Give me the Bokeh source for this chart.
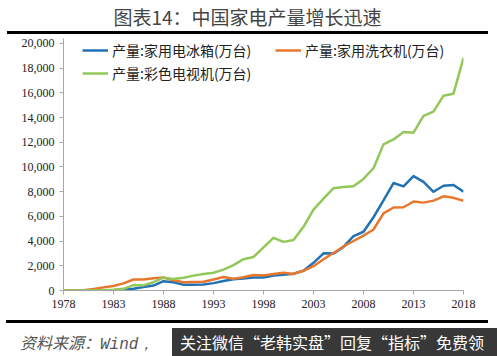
from bokeh.plotting import figure
from bokeh.layouts import column
from bokeh.models import Range1d, FixedTicker, NumeralTickFormatter, Legend, LegendItem, Div
from bokeh.embed import file_html
from bokeh.resources import INLINE

years = list(range(1978, 2019))
fridge = [2.8, 3.2, 4.9, 5.6, 10.0, 18.9, 54.7, 144.8, 290.6, 401.3, 757.6, 670.8, 463.1,
          469.9, 485.8, 596.7, 768.1, 918.5, 979.7, 1044.4, 1060.0, 1210.0, 1279.0, 1351.3,
          1598.9, 2242.6, 3007.6, 2987.1, 3530.9, 4397.1, 4756.9, 5930.5, 7295.7, 8699.2,
          8427.0, 9261.0, 8796.0, 7992.8, 8481.6, 8548.0, 7993.2]
washer = [0.04, 1.8, 24.5, 128.1, 253.3, 365.9, 578.1, 887.2, 899.0, 990.2, 1046.8, 825.4,
          662.7, 687.2, 707.9, 895.9, 1094.2, 948.4, 1074.7, 1254.5, 1207.3, 1342.2, 1443.0,
          1341.6, 1595.8, 1964.5, 2533.4, 3035.5, 3560.5, 4005.1, 4447.0, 4935.8, 6247.7,
          6715.9, 6742.2, 7202.0, 7114.0, 7274.6, 7620.9, 7500.0, 7262.0]
colortv = [0.38, 0.96, 3.21, 15.2, 28.8, 53.1, 134.0, 435.3, 414.6, 672.7, 1037.7, 940.0,
           1033.0, 1205.1, 1333.1, 1435.8, 1689.2, 2057.7, 2537.6, 2711.3, 3497.0, 4262.0,
           3936.0, 4093.7, 5155.0, 6541.4, 7431.8, 8283.2, 8375.4, 8433.0, 9033.1, 9898.8,
           11830.0, 12231.0, 12823.5, 12776.1, 14128.9, 14475.7, 15769.6, 15932.6, 18834.9]
x_ticks = [1978, 1983, 1988, 1993, 1998, 2003, 2008, 2013, 2018]
y_ticks = list(range(0, 20001, 2000))
names = ["产量:家用电冰箱(万台)", "产量:家用洗衣机(万台)", "产量:彩色电视机(万台)"]
title_text = "图表14：中国家电产量增长迅速"
source_cn = "资料来源："
source_en = "Wind，"
mark_text = "关注微信“老韩实盘”回复“指标”免费领"

W = 497
FONT = "'Noto Sans CJK SC', sans-serif"

# title block, its bottom border is the heavy black rule
title_div = Div(width=481, height=34, margin=(0, 9, 0, 7),
                styles={"border-bottom": "3px solid #000000", "box-sizing": "border-box"},
                text=(f'<div style="position:relative;width:481px;height:31px;">'
                      f'<div style="position:absolute;left:0;top:6px;width:481px;'
                      f'text-align:center;font-family:{FONT};font-size:19px;line-height:22px;'
                      f'color:#444444;white-space:nowrap;">{title_text}</div></div>'))

p = figure(width=W, height=286, output_backend="svg", toolbar_location=None,
           x_range=Range1d(1978, 2018), y_range=Range1d(0, 20400),
           min_border_left=63, min_border_right=34, min_border_top=4, min_border_bottom=30,
           margin=0)
p.outline_line_color = None
p.xgrid.visible = False
p.ygrid.visible = False
p.border_fill_color = None
p.background_fill_color = None

for ax in (p.xaxis, p.yaxis):
    ax.axis_line_color = "#A6A6A6"
    ax.major_tick_line_color = "#A6A6A6"
    ax.minor_tick_line_color = None
    ax.major_tick_in = 0
    ax.major_tick_out = 4
    ax.major_label_text_font = "Liberation Serif"
    ax.major_label_text_font_size = "12px"
    ax.major_label_text_color = "#222222"
p.xaxis.ticker = FixedTicker(ticks=x_ticks)
p.yaxis.ticker = FixedTicker(ticks=y_ticks)
p.yaxis.formatter = NumeralTickFormatter(format="0,0")
p.xaxis.major_label_standoff = 5
p.yaxis.major_label_standoff = 5

c_blue, c_orange, c_green = "#2171B5", "#E8772E", "#92C85A"
r1 = p.line(years, fridge, line_color=c_blue, line_width=2.5, line_join="round")
r2 = p.line(years, washer, line_color=c_orange, line_width=2.5, line_join="round")
r3 = p.line(years, colortv, line_color=c_green, line_width=2.5, line_join="round")


def mk_legend(items, loc):
    lg = Legend(items=items, location=loc, padding=0, margin=0, spacing=3,
                glyph_width=26, glyph_height=20, label_height=20, label_standoff=4,
                label_text_font="Noto Sans CJK SC", label_text_font_size="14px",
                label_text_color="#222222", border_line_color=None,
                background_fill_alpha=0)
    p.add_layout(lg, "center")


mk_legend([LegendItem(label=names[0], renderers=[r1]),
           LegendItem(label=names[2], renderers=[r3])], (19, 207))
mk_legend([LegendItem(label=names[1], renderers=[r2])], (212, 230))

bar_bottom = Div(width=482, height=3, margin=(0, 9, 0, 6), text="",
                 styles={"border-top": "3px solid #000000", "box-sizing": "border-box",
                         "background-color": "#000000"})

bottom = Div(width=W, height=33, margin=0, text=(
    f'<div style="position:relative;width:{W}px;height:33px;overflow:hidden;">'
    f'<div style="position:absolute;left:20px;top:8px;font-size:16px;'
    f'line-height:22px;font-style:italic;color:#555555;white-space:nowrap;">'
    f'<span style="font-family:{FONT};">{source_cn}</span>'
    f'<span style="font-family:\'Liberation Mono\', monospace;">{source_en}</span></div>'
    f'<div style="position:absolute;left:172px;top:5px;width:325px;height:28px;'
    f'background:#383838;"></div>'
    f'<div style="position:absolute;left:180px;top:8px;font-family:{FONT};font-size:16px;'
    f'line-height:22px;color:#FFFFFF;white-space:nowrap;">{mark_text}</div>'
    f'</div>'))

layout = column(title_div, p, bar_bottom, bottom, spacing=0, margin=0)
open("out.html", "w").write(file_html(layout, INLINE))
